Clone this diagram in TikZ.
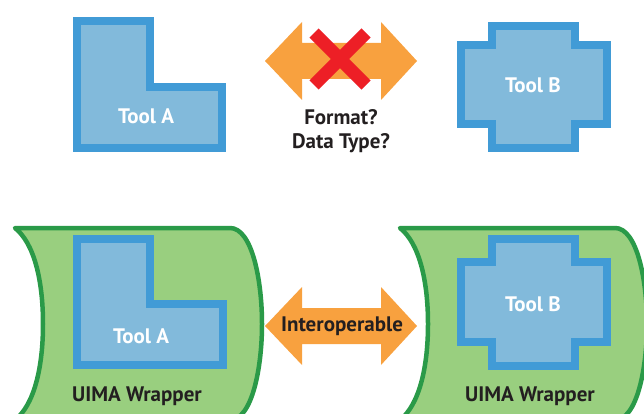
\documentclass[tikz,border=0pt]{standalone}
\usepackage{fontspec}
\setmainfont{PT Sans}
\definecolor{toolline}{HTML}{419BD6}
\definecolor{toolfill}{HTML}{82BADB}
\definecolor{wrapfill}{HTML}{99CF7F}
\definecolor{wrapline}{HTML}{2A9A48}
\definecolor{arrowfill}{HTML}{F8A13F}
\definecolor{crossred}{HTML}{ED1F26}
\definecolor{ink}{HTML}{231F20}
\tikzset{
  toolshape/.style={draw=toolline, fill=toolfill, line width=8pt, line join=miter},
  wrapshape/.style={draw=wrapline, fill=wrapfill, line width=4.5pt, line join=round},
  bigarrow/.style={fill=arrowfill},
  toollabel/.style={text=white, font=\bfseries\fontsize{21}{23}\selectfont, inner sep=0pt},
  darklabel/.style={text=ink, font=\bfseries\fontsize{21}{23.5}\selectfont, inner sep=0pt, align=center},
}
\begin{document}
\begin{tikzpicture}[x=1pt, y=-1pt]
\useasboundingbox (0,0) rectangle (644,414);
\clip (0,0) rectangle (644,414);

% ---- upper row: two tools without a common format ----
\draw[toolshape] (77,21) -- (150,21) -- (150,87) -- (222,87) -- (222,148) -- (77,148) -- cycle;
\node[toollabel] (toolA) at (146,116) {Tool A};

\draw[toolshape] (492,26) -- (575,26) -- (575,45) -- (607,45) -- (607,124) -- (575,124)
  -- (575,148) -- (492,148) -- (492,124) -- (461,124) -- (461,45) -- (492,45) -- cycle;
\node[toollabel] (toolB) at (533,85) {Tool B};

% double-headed arrow, crossed out
\fill[bigarrow] (265,61) -- (302,22) -- (302,43) -- (381,43) -- (381,22) -- (417,61)
  -- (381,100) -- (381,79) -- (302,79) -- (302,100) -- cycle;
\draw[crossred, line width=13pt] (314,33) -- (366,85);
\draw[crossred, line width=13pt] (366,33) -- (314,85);
\node[darklabel] (question) at (341,131) {Format?\\Data Type?};

% ---- lower row: tools inside UIMA wrappers ----
\foreach \dx/\nm in {0/left, 385/right}{
  \begin{scope}[xshift=\dx]
    \draw[wrapshape] (15,228) -- (230,228)
      .. controls (252,228) and (262,280) .. (262,324)
      .. controls (262,368) and (252,420) .. (230,420)
      -- (15,420)
      .. controls (34,405) and (43,368) .. (43,324)
      .. controls (43,280) and (34,243) .. (15,228) -- cycle;
  \end{scope}
}
\node[darklabel] (wrapA) at (137,396) {UIMA Wrapper};
\node[darklabel] (wrapB) at (530,396) {UIMA Wrapper};

\draw[toolshape] (77,239) -- (150,239) -- (150,304) -- (223,304) -- (223,365) -- (77,365) -- cycle;
\node[toollabel] (toolAw) at (141,336) {Tool A};

\draw[toolshape] (492,239) -- (575,239) -- (575,262) -- (607,262) -- (607,342) -- (575,342)
  -- (575,366) -- (492,366) -- (492,342) -- (461,342) -- (461,262) -- (492,262) -- cycle;
\node[toollabel] (toolBw) at (533,304) {Tool B};

\fill[bigarrow] (265,326) -- (302,287) -- (302,308) -- (381,308) -- (381,287) -- (417,326)
  -- (381,365) -- (381,344) -- (302,344) -- (302,365) -- cycle;
\node[darklabel] (interop) at (342,326) {Interoperable};
\end{tikzpicture}
\end{document}
